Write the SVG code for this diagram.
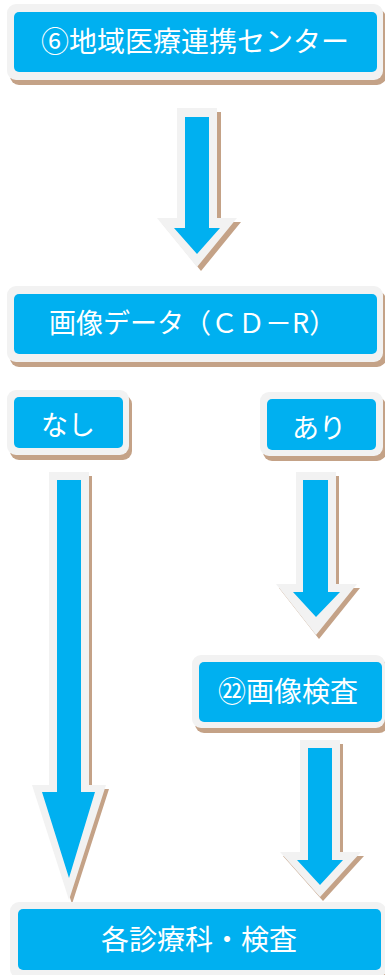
<svg xmlns="http://www.w3.org/2000/svg" width="385" height="975" viewBox="0 0 385 975">
<style>
.sh{fill:#c4a287}
.out{fill:#f2f2f2}
.in{fill:#00b0f0}
.t{fill:#ffffff;font-family:"Noto Sans CJK JP","Noto Sans",sans-serif;font-size:28px}
</style>
<rect width="385" height="975" fill="#ffffff"/>
<g id="connectors">
  <g id="arrow1">
    <polygon class="sh" points="181,112 221,112 221,222 241,222 201,271 161,222 181,222"/>
    <polygon class="out" points="177,108 217,108 217,218 237,218 197,267 157,218 177,218"/>
    <polygon class="in" points="185,117 209,117 209,228 220,228 197,254 174,228 185,228"/>
  </g>
  <g id="arrow2">
    <polygon class="sh" points="52,476 92,476 92,789 109,789 72,904 35,789 52,789"/>
    <polygon class="out" points="49,472 89,472 89,785 106,785 69,900 32,785 49,785"/>
    <polygon class="in" points="57,480 81,480 81,792 95,792 69,878 42,792 57,792"/>
  </g>
  <g id="arrow3">
    <polygon class="sh" points="299,476 339,476 339,588 360,588 319,639 279,588 299,588"/>
    <polygon class="out" points="296,472 336,472 336,584 357,584 316,635 276,584 296,584"/>
    <polygon class="in" points="303,480 328,480 328,592 340,592 316,617 293,592 303,592"/>
  </g>
  <g id="arrow4">
    <polygon class="sh" points="303,744 343,744 343,856 364,856 323,901 283,856 303,856"/>
    <polygon class="out" points="300,740 340,740 340,852 361,852 320,897 280,852 300,852"/>
    <polygon class="in" points="308,748 332,748 332,860 343,860 320,885 297,860 308,860"/>
  </g>
</g>
<g id="node-center">
  <rect class="sh" x="10" y="9" width="376" height="76" rx="9"/>
  <rect class="out" x="7" y="4" width="376" height="76" rx="9"/>
  <rect class="in" x="14" y="12" width="363" height="60" rx="5"/>
  <text class="t" x="195" y="52" text-anchor="middle">⑥地域医療連携センター</text>
</g>
<g id="node-image-data">
  <rect class="sh" x="10" y="291" width="376" height="76" rx="9"/>
  <rect class="out" x="7" y="286" width="376" height="76" rx="9"/>
  <rect class="in" x="14" y="294" width="363" height="60" rx="5"/>
  <text class="t" x="49" y="333" style="font-size:27px">画像データ（ＣＤ－R）</text>
</g>
<g id="node-nashi">
  <rect class="sh" x="10" y="395" width="122" height="65" rx="9"/>
  <rect class="out" x="7" y="390" width="122" height="65" rx="9"/>
  <rect class="in" x="14" y="397" width="109" height="51" rx="5"/>
  <text class="t" x="68" y="435" text-anchor="middle" style="font-size:27px">なし</text>
</g>
<g id="node-ari">
  <rect class="sh" x="263" y="397" width="123" height="64" rx="9"/>
  <rect class="out" x="260" y="392" width="123" height="64" rx="9"/>
  <rect class="in" x="267" y="399" width="109" height="51" rx="5"/>
  <text class="t" x="319" y="438" text-anchor="middle" style="font-size:27px">あり</text>
</g>
<g id="node-imaging">
  <rect class="sh" x="195" y="660" width="193" height="73" rx="9"/>
  <rect class="out" x="192" y="655" width="193" height="73" rx="9"/>
  <rect class="in" x="199" y="662" width="183" height="60" rx="5"/>
  <text class="t" x="288" y="702" text-anchor="middle">㉒画像検査</text>
</g>
<g id="node-departments">
  <rect class="sh" x="13" y="907" width="376" height="76" rx="9"/>
  <rect class="out" x="10" y="902" width="376" height="76" rx="9"/>
  <rect class="in" x="18" y="909" width="363" height="61" rx="5"/>
  <text class="t" x="199" y="950" text-anchor="middle">各診療科・検査</text>
</g>
</svg>
